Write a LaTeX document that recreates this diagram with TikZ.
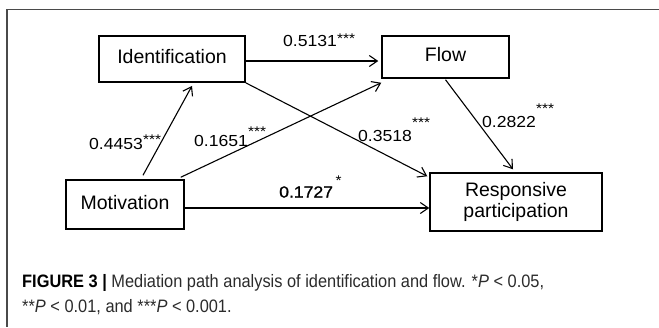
\documentclass[tikz,border=0pt]{standalone}
\usepackage{fontspec}
\setmainfont{Liberation Sans}
\newfontfamily\labfont[FakeStretch=1.1]{Liberation Sans}
\newfontfamily\labfontb[FakeStretch=1.1,FakeBold=1.2]{Liberation Sans}
\newfontfamily\capfont[FakeStretch=0.91]{Liberation Sans}
\usetikzlibrary{arrows.meta,calc}

\definecolor{framegray}{HTML}{4A4A4A}
\definecolor{captiongray}{HTML}{2B2B2B}

% significance stars, raised by #1
\newcommand\sigstars[2]{\raisebox{#1}{\labfont\fontsize{14}{14}\selectfont #2}}

\begin{document}
\begin{tikzpicture}[x=1pt,y=-1pt,
  varbox/.style={draw,line width=1.5pt,inner sep=0pt,align=center,
    font=\fontsize{19.5}{20.5}\selectfont},
  oneword/.style={text depth=4.5pt},
  pathline/.style={line width=1.1pt,
    -{Straight Barb[length=8pt,width=11pt,line width=1.1pt]}},
  coef/.style={anchor=base west,inner sep=0pt,
    font=\labfont\fontsize{16}{16}\selectfont},
]
\useasboundingbox (0,0) rectangle (659,327);

% frame
\draw[line width=1.6pt,framegray] (659,9.5) -| (7,327);

% variables
\node[varbox,oneword,line width=1.8pt,minimum width=146pt,minimum height=46pt]
  (ident) at (172,59) {Identification};
\node[varbox,oneword,minimum width=127pt,minimum height=42pt]
  (flow) at (445.5,57) {Flow};
\node[varbox,oneword,minimum width=118pt,minimum height=49pt]
  (mot) at (125,204.5) {Motivation};
\node[varbox,minimum width=172pt,minimum height=58pt]
  (resp) at (516,202) {Responsive\\participation};

% paths
\draw[pathline] ([yshift=-2pt]ident.east) -- ([xshift=-3pt,yshift=-4pt]flow.west);
\draw[pathline] ([xshift=18pt,yshift=4pt]mot.north) -- ([xshift=20pt,yshift=-3pt]ident.south);
\draw[pathline] ([xshift=-4pt,yshift=2pt]mot.north east) -- ([yshift=-4pt]flow.south west);
\draw[pathline] (ident.south east) -- ([xshift=-2pt,yshift=-4pt]resp.north west);
\draw[pathline] ([yshift=-1pt]flow.south) -- ([xshift=-3pt,yshift=3pt]resp.north);
\draw[pathline] ([yshift=-3.5pt]mot.east) -- ([yshift=-6pt]resp.west);

% coefficients
\node[coef] (c1) at (283,46)  {0.5131\sigstars{3pt}{***}};
\node[coef] (c2) at (89,149)  {0.4453\sigstars{5pt}{***}};
\node[coef] (c3) at (194,146) {0.1651\sigstars{10pt}{***}};
\node[coef] (c4) at (358,141) {0.3518\sigstars{14pt}{***}};
\node[coef] (c5) at (482,127) {0.2822\sigstars{14pt}{***}};
\node[coef,font=\labfontb\fontsize{16}{16}\selectfont] (c6) at (279,197.5)
  {0.1727\,\sigstars{12pt}{*}};

% caption (anchored on the baseline of its last line)
\node[anchor=base west,inner sep=0pt,text=captiongray,
  font=\capfont\fontsize{18}{25}\selectfont,align=left] (cap) at (22,312)
  {{\bfseries\color{black}FIGURE 3 |} Mediation path analysis of identification and flow. *{\itshape P} < 0.05,\\
   **{\itshape P} < 0.01, and ***{\itshape P} < 0.001.};
\end{tikzpicture}
\end{document}
